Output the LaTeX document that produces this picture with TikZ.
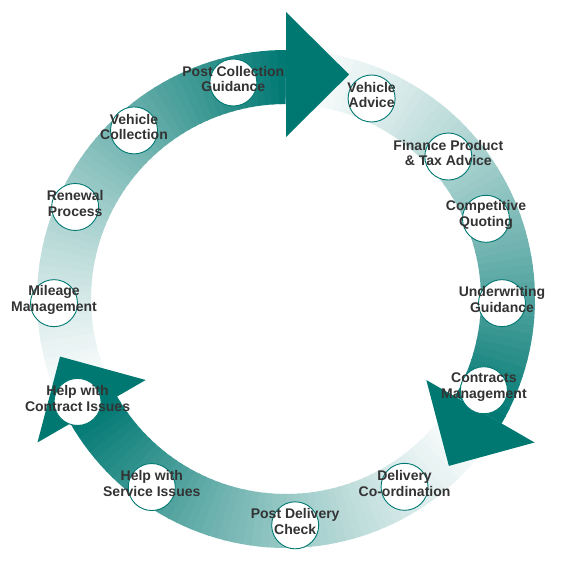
\documentclass[tikz,border=0pt]{standalone}
\usepackage{fontspec}
\setmainfont{Liberation Sans}
\usetikzlibrary{calc}
\definecolor{cycleteal}{RGB}{0,120,114}
\definecolor{labelgray}{RGB}{51,51,51}
\tikzstyle{stage} = [circle, draw=cycleteal, line width=0.9pt, fill=white, minimum size=47pt, inner sep=0pt]

\begin{document}
\begin{tikzpicture}[x=1pt,y=1pt,
			txt/.style={align=center, font=\fontsize{14}{15.8}\selectfont\bfseries, text=labelgray, yshift=3.5pt},
			band/.style={line width=54pt},
			head/.style={fill=cycleteal}]
			\useasboundingbox (0,0) rectangle (566,567);
			\coordinate (ring) at (286,268);
			\coordinate (hub) at (278,265);
			\foreach \h in {90,-30,210}{
				\foreach \i in {0,...,59}{
					\pgfmathsetmacro{\s}{\h+120-2*\i}
					\pgfmathsetmacro{\e}{\s-2.4}
					\pgfmathsetmacro{\p}{100*pow((\i+0.5)/60,1.3)}
					\draw [band,cycleteal!\p!white] ($(ring)+(\s:222)$) arc[start angle=\s, end angle=\e, radius=222];
				}
			}
			\foreach \h/\n in {90/top,-30/right,210/left}{
				\fill [head] ($(ring)+(\h:162)$) coordinate (\n a) -- ($(ring)+(\h-15.7:233.2)$) coordinate (\n tip) -- ($(ring)+(\h:287)$) coordinate (\n b) -- cycle;
			}
			\foreach \a/\n/\lbl in {101.5/pcg/{Post Collection\\Guidance},
				65.3/va/{Vehicle\\Advice},
				40.5/fin/{Finance Product\\\& Tax Advice},
				21.8/quot/{Competitive\\Quoting},
				-0.3/uw/{Underwriting\\Guidance},
				-23.2/cm/{Contracts\\Management},
				-55.6/dc/{Delivery\\Co-ordination},
				-85.6/pdc/{Post Delivery\\Check},
				235.7/hsi/{Help with\\Service Issues},
				206.5/hci/{Help with\\Contract Issues},
				180.3/mm/{Mileage\\Management},
				154.9/rp/{Renewal\\Process},
				130/vc/{Vehicle\\Collection}}{
				\node (\n) [stage,label={[txt]center:{\lbl}}] at ($(hub)+(\a:224)$) {};
			}
		\end{tikzpicture}
\end{document}
